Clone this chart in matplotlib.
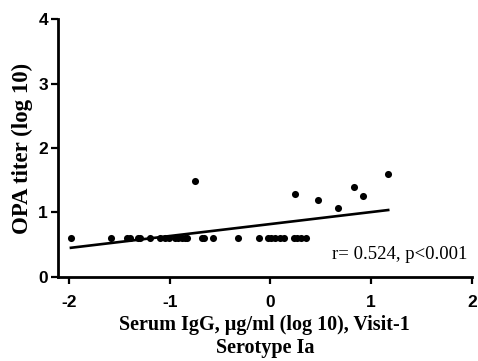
import matplotlib
matplotlib.use("Agg")
import matplotlib.pyplot as plt
import numpy as np

plt.rcParams["axes.unicode_minus"] = False

# Serum IgG (log 10) vs OPA titer (log 10), serotype Ia
igg_x = [-1.98, -1.58, -1.42, -1.39, -1.31, -1.29, -1.19, -1.10, -1.05, -1.01,
         -0.95, -0.92, -0.88, -0.85, -0.83, -0.68, -0.66, -0.57, -0.32, -0.11,
         -0.02, 0.01, 0.05, 0.10, 0.14, 0.23, 0.26, 0.30, 0.35,
         -0.75, 0.24, 0.47, 0.67, 0.83, 0.92, 1.17]
opa_y = [0.6] * 29 + [1.49, 1.28, 1.20, 1.07, 1.40, 1.26, 1.60]

# regression line
fit_slope = 0.186
fit_intercept = 0.82
stats_text = "r= 0.524, p<0.001"

x_ticks = [-2, -1, 0, 1, 2]
y_ticks = [0, 1, 2, 3, 4]

fig = plt.figure(figsize=(4.78, 3.61), dpi=100)
ax = fig.add_axes([0.121, 0.233, 0.866, 0.714])

ax.scatter(igg_x, opa_y, s=26, color="black", zorder=3, linewidths=0)

fx = np.array([min(igg_x), max(igg_x)])
ax.plot(fx, fit_slope * fx + fit_intercept, color="black", lw=1.9)

ax.set_xlim(-2.11, 2)
ax.set_ylim(0, 4)
ax.set_xticks(x_ticks)
ax.set_yticks(y_ticks)

for s in ["top", "right"]:
    ax.spines[s].set_visible(False)
for s in ["left", "bottom"]:
    ax.spines[s].set_linewidth(2)
ax.tick_params(width=1.6, length=5, direction="out")
ax.tick_params(axis="x", pad=8)
ax.tick_params(axis="y", pad=2)
for lab in ax.get_xticklabels() + ax.get_yticklabels():
    lab.set_family("Liberation Sans")
    lab.set_fontweight("bold")
    lab.set_fontsize(12.5)

ax.set_xlabel("Serum IgG, \u00b5g/ml (log 10), Visit-1\nSerotype Ia",
              family="Liberation Serif", fontweight="bold", fontsize=14.5,
              linespacing=1.15, labelpad=4)
ax.set_ylabel("OPA titer (log 10)", family="Liberation Serif",
              fontweight="bold", fontsize=16.5, labelpad=4)

ax.text(0.99, 0.085, stats_text, transform=ax.transAxes, ha="right",
        va="center", family="Liberation Serif", fontsize=13.5)

fig.savefig("out.png", dpi=100)
